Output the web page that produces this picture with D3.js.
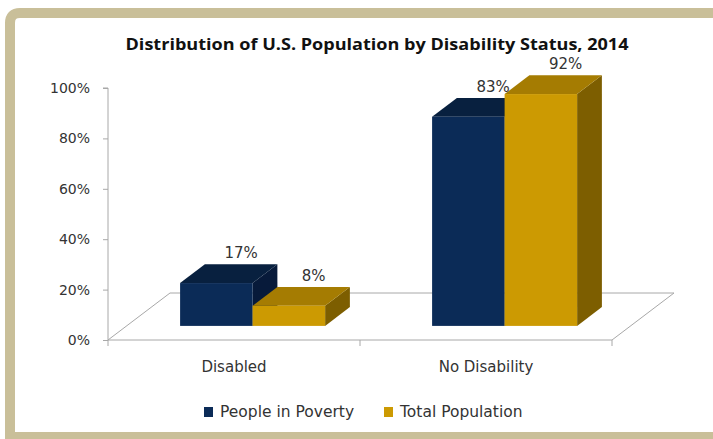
<!DOCTYPE html>
<html>
<head>
<meta charset="utf-8">
<script src="https://cdn.jsdelivr.net/npm/d3@7"></script>
<style>
  html, body { margin: 0; padding: 0; background: #fff; overflow: hidden; }
  text { font-family: "DejaVu Sans", Verdana, sans-serif; fill: #333; }
</style>
</head>
<body>
<div id="chart"></div>
<script>
// Data
const categories = ['Disabled', 'No Disability'];
const seriesNames = ['People in Poverty', 'Total Population'];
const povertyValues = [0.17, 0.83];
const totalValues = [0.08, 0.92];
const yTicks = [0, 0.2, 0.4, 0.6, 0.8, 1.0];

const W = 713, H = 439;
const svg = d3.select('#chart').append('svg')
    .attr('width', W)
    .attr('height', H)
    .style('display', 'block');

svg.append('rect').attr('width', W).attr('height', H).attr('fill', '#fff');

// Frame: left, top and bottom edges only (right side is cut off in the original)
svg.append('path')
    .attr('d', `M${W + 20},13 H20 Q10,13 10,23 V437 H${W + 20}`)
    .attr('fill', 'none')
    .attr('stroke', '#c9bf99')
    .attr('stroke-width', 10);

// Title
svg.append('text')
    .attr('x', 377).attr('y', 50)
    .attr('text-anchor', 'middle')
    .attr('textLength', 503)
    .attr('lengthAdjust', 'spacingAndGlyphs')
    .style('font-family', '"Open Sans", sans-serif')
    .style('font-weight', 'bold')
    .style('font-size', '16.5px')
    .style('fill', '#111')
    .text('Distribution of U.S. Population by Disability Status, 2014');

// Scales (front plane) + depth offset for fake 3D
const x0 = d3.scaleBand().domain(categories).range([108, 612]);
const x1 = d3.scaleBand().domain(seriesNames).range([0, 145]);
const y = d3.scaleLinear().domain([0, 1]).range([340, 88]);
const depth = { dx: 62, dy: -47 };
const zFront = 0.3, zBack = 0.7;
const proj = (px, py, z) => [px + depth.dx * z, py + depth.dy * z];

const gridColor = '#a8a8a8';

// Floor
const floor = [proj(108, y(0), 0), proj(612, y(0), 0), proj(612, y(0), 1), proj(108, y(0), 1)];
svg.append('path')
    .attr('d', 'M' + floor.join('L') + 'Z')
    .attr('fill', 'none')
    .attr('stroke', gridColor)
    .attr('stroke-width', 1);

// Y axis
const yAxis = svg.append('g')
    .attr('transform', 'translate(108,0)')
    .call(d3.axisLeft(y).tickValues(yTicks).tickFormat(d3.format('.0%')).tickSize(5).tickPadding(13));
yAxis.select('.domain').attr('stroke', gridColor).attr('d', `M-5,${y(1)}H0V${y(0)}`);
yAxis.selectAll('.tick line').attr('stroke', gridColor);
yAxis.selectAll('.tick text').style('font-size', '14px').style('fill', '#333');

// X axis ticks on front floor edge
const xTickPos = [x0.range()[0], x0(categories[1]), x0.range()[1]];
svg.selectAll('.xtick')
    .data(xTickPos)
    .enter()
    .append('line')
    .attr('x1', d => d).attr('x2', d => d)
    .attr('y1', y(0)).attr('y2', y(0) + 6)
    .attr('stroke', gridColor);

svg.selectAll('.xlabel')
    .data(categories)
    .enter()
    .append('text')
    .attr('x', d => x0(d) + x0.bandwidth() / 2)
    .attr('y', 372)
    .attr('text-anchor', 'middle')
    .style('font-size', '15px')
    .text(d => d);

// Bars
const colors = {
    'People in Poverty': { front: '#0b2b57', top: '#08203f', side: '#071a3a' },
    'Total Population': { front: '#cc9a02', top: '#a57c02', side: '#7d5e00' }
};

const bars = [];
categories.forEach((c, i) => {
    bars.push({ cat: c, series: seriesNames[0], value: povertyValues[i] });
    bars.push({ cat: c, series: seriesNames[1], value: totalValues[i] });
});

const barW = x1.bandwidth();
const poly = pts => 'M' + pts.join('L') + 'Z';
bars.forEach(b => {
    const left = x0(b.cat) + (x0.bandwidth() - 145) / 2 + x1(b.series);
    const right = left + barW;
    const top = y(b.value), bot = y(0);
    const col = colors[b.series];
    const g = svg.append('g');

    // right side
    g.append('path')
        .attr('d', poly([proj(right, bot, zFront), proj(right, bot, zBack), proj(right, top, zBack), proj(right, top, zFront)]))
        .attr('fill', col.side);
    // top
    g.append('path')
        .attr('d', poly([proj(left, top, zFront), proj(right, top, zFront), proj(right, top, zBack), proj(left, top, zBack)]))
        .attr('fill', col.top);
    // front
    const f0 = proj(left, top, zFront);
    g.append('rect')
        .attr('x', f0[0]).attr('y', f0[1])
        .attr('width', barW).attr('height', bot - top)
        .attr('fill', col.front);

    // value label above the back top edge
    const lb = proj(left + barW / 2, top, zBack);
    g.append('text')
        .attr('x', lb[0]).attr('y', lb[1] - 6)
        .attr('text-anchor', 'middle')
        .style('font-size', '15px')
        .text(d3.format('.0%')(b.value));
});

// Legend
const legend = svg.append('g').attr('transform', 'translate(204,407)');
const legendX = [0, 180];
seriesNames.forEach((s, i) => {
    legend.append('rect')
        .attr('x', legendX[i]).attr('y', 0)
        .attr('width', 9).attr('height', 10)
        .attr('fill', colors[s].front);
    legend.append('text')
        .attr('x', legendX[i] + 16).attr('y', 10)
        .style('font-size', '15.5px')
        .text(s);
});
</script>
</body>
</html>
